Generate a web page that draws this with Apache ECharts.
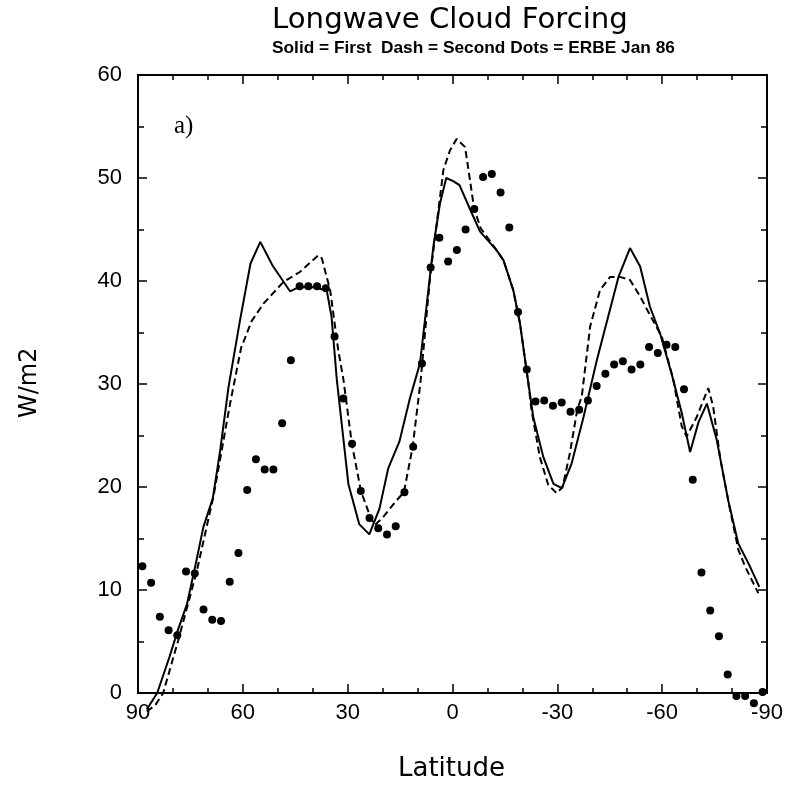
<!DOCTYPE html>
<html><head><meta charset="utf-8">
<script src="https://cdn.jsdelivr.net/npm/echarts@6/dist/echarts.min.js"></script>
<style>html,body{margin:0;padding:0;background:#fff}#c{width:793px;height:787px}</style>
</head><body><div id="c"></div>
<script>
// ---- data ----
const titleText = 'Longwave Cloud Forcing';
const subtitleText = 'Solid = First  Dash = Second Dots = ERBE Jan 86';
const xTickLabels = [90, 60, 30, 0, -30, -60, -90];
const yTickLabels = [0, 10, 20, 30, 40, 50, 60];

// ERBE observations (dots), latitude and W/m2
const dotLat = [88.75, 86.25, 83.75, 81.25, 78.75, 76.25, 73.75, 71.25, 68.75, 66.25,
  63.75, 61.25, 58.75, 56.25, 53.75, 51.25, 48.75, 46.25, 43.75, 41.25,
  38.75, 36.25, 33.75, 31.25, 28.75, 26.25, 23.75, 21.25, 18.75, 16.25,
  13.75, 11.25, 8.75, 6.25, 3.75, 1.25, -1.25, -3.75, -6.25, -8.75,
  -11.25, -13.75, -16.25, -18.75, -21.25, -23.75, -26.25, -28.75, -31.25, -33.75,
  -36.25, -38.75, -41.25, -43.75, -46.25, -48.75, -51.25, -53.75, -56.25, -58.75,
  -61.25, -63.75, -66.25, -68.75, -71.25, -73.75, -76.25, -78.75, -81.25, -83.75,
  -86.25, -88.75];
const dotVal = [12.3, 10.7, 7.4, 6.1, 5.6, 11.8, 11.6, 8.1, 7.1, 7.0,
  10.8, 13.6, 19.7, 22.7, 21.7, 21.7, 26.2, 32.3, 39.5, 39.5,
  39.5, 39.3, 34.6, 28.6, 24.2, 19.6, 17.0, 16.0, 15.4, 16.2,
  19.5, 23.9, 32.0, 41.3, 44.2, 41.9, 43.0, 45.0, 47.0, 50.1,
  50.4, 48.6, 45.2, 37.0, 31.4, 28.3, 28.4, 27.9, 28.2, 27.3,
  27.5, 28.4, 29.8, 31.0, 31.9, 32.2, 31.4, 31.9, 33.6, 33.0,
  33.8, 33.6, 29.5, 20.7, 11.7, 8.0, 5.5, 1.8, -0.3, -0.3,
  -1.0, 0.1];

// First run (solid) [latitude, W/m2]
const firstRun = [[87.5,-1.6],[84.5,0],[81,3.5],[78.5,6.2],[76,8.6],[73.5,12.5],[71.3,16.1],
  [68.6,18.9],[66.5,23.5],[64.1,29.7],[60.8,36.2],[57.8,41.7],[55,43.8],[51.5,41.5],
  [46.5,39.0],[44,39.4],[40,39.4],[36,39.1],[34.6,36.5],[33.1,30.4],[31,24.0],[29.8,20.3],
  [26.7,16.4],[23.8,15.4],[20.9,17.9],[18.4,21.8],[15.2,24.4],[12.2,28.6],[9.3,32.0],
  [5.5,43.3],[3.6,47.5],[1.8,50.0],[-0.2,49.7],[-2,49.3],[-5.5,46.6],[-7.9,44.8],
  [-12.6,43.0],[-14.6,42.0],[-17.4,39.1],[-19.3,35.9],[-21.7,30.1],[-23.1,26.8],
  [-26,22.9],[-28.9,20.3],[-31.3,19.9],[-34.1,22.3],[-37.5,26.8],[-41.3,32.3],
  [-47.5,40.4],[-50.8,43.2],[-53.7,41.4],[-56.5,37.5],[-59.4,34.9],[-62.7,31.0],
  [-65.6,27.2],[-68,23.4],[-70.4,26.3],[-72.8,28.1],[-75.6,24.6],[-78.9,18.7],
  [-81.8,14.5],[-85.1,12.3],[-87.8,10.3]];

// Second run (dashed) [latitude, W/m2]
const secondRun = [[87.5,-1.8],[85.1,-1.2],[82.8,0],[78.5,5.1],[73.2,11.8],[68.4,19.1],
  [63.7,28.0],[60.5,33.5],[57.5,36.1],[54.1,37.8],[48.4,39.9],[43.6,40.9],[38.4,42.5],
  [37.4,42.2],[35,39.1],[32.7,33.3],[31.2,30.4],[28.8,24.2],[26.2,19.6],[23.4,17.0],
  [22.2,16.3],[19.8,17.1],[16.5,18.5],[13.9,19.5],[11.4,23.9],[9.1,30.4],[6.4,40.4],
  [2.6,50.8],[0.7,52.7],[-1.2,53.8],[-3.6,53.0],[-5,49.8],[-6.2,47.0],[-8.1,45.1],
  [-12.6,43.0],[-14.6,42.0],[-17.4,39.1],[-19.3,35.9],[-21.7,30.1],[-22.6,27.5],
  [-25,22.9],[-27.4,20.2],[-29.8,19.4],[-31.5,20.0],[-33.6,23.3],[-35.7,27.5],
  [-37,28.8],[-39.4,35.6],[-42.2,39.1],[-45.1,40.4],[-47.9,40.4],[-50.8,40.1],
  [-53.7,38.5],[-56.5,36.7],[-59.9,34.6],[-63.2,30.4],[-65.6,25.9],[-67,24.9],
  [-69.9,26.8],[-73.2,29.6],[-74.6,27.8],[-76.6,22.8],[-78.9,18.7],[-81.8,13.9],
  [-83.7,12.3],[-87.5,9.7]];

// ---- helpers ----
function fitSize(text, family, weight, target) {
  const c = document.createElement('canvas').getContext('2d');
  c.font = weight + ' 100px ' + family;
  return 100 * target / c.measureText(text).width;
}
const titleSize = fitSize(titleText, '"DejaVu Sans"', 'normal', 356);
const subSize = fitSize(subtitleText, '"Liberation Sans"', 'bold', 403);

const chart = echarts.init(document.getElementById('c'), null, {renderer: 'canvas'});
const axisCommon = {
  type: 'value',
  axisLine: {show: true, onZero: false, lineStyle: {color: '#000', width: 2}},
  splitLine: {show: false},
  minorSplitLine: {show: false}
};
const xBase = Object.assign({}, axisCommon, {
  min: -90, max: 90, interval: 30, inverse: true,
  axisTick: {show: true, inside: true, length: 9, lineStyle: {color: '#000', width: 1.5}},
  minorTick: {show: true, splitNumber: 3, length: 5, lineStyle: {color: '#000', width: 1.5}}
});
const yBase = Object.assign({}, axisCommon, {
  min: 0, max: 60, interval: 10,
  axisTick: {show: true, inside: true, length: 9, lineStyle: {color: '#000', width: 1.5}},
  minorTick: {show: true, splitNumber: 2, length: 6, lineStyle: {color: '#000', width: 1.5}}
});

const option = {
  backgroundColor: '#fff',
  animation: false,
  grid: {left: 138, right: 26, top: 75, bottom: 94, containLabel: false},
  xAxis: [
    Object.assign({}, xBase, {
      position: 'bottom',
      axisLabel: {show: true, margin: 9, color: '#000', fontSize: 22,
        fontFamily: '"Liberation Sans", Arial, sans-serif',
        formatter: v => xTickLabels.indexOf(v) >= 0 ? String(v) : ''}
    }),
    Object.assign({}, xBase, {position: 'top', axisLabel: {show: false}})
  ],
  yAxis: [
    Object.assign({}, yBase, {
      position: 'left',
      axisLabel: {show: true, margin: 16, color: '#000', fontSize: 22,
        fontFamily: '"Liberation Sans", Arial, sans-serif',
        formatter: v => yTickLabels.indexOf(v) >= 0 ? String(v) : ''}
    }),
    Object.assign({}, yBase, {position: 'right', axisLabel: {show: false}})
  ],
  graphic: [
    {type: 'text', left: 272, top: 6, style: {text: titleText, fill: '#000',
      font: 'normal ' + titleSize.toFixed(2) + 'px "DejaVu Sans", sans-serif'}},
    {type: 'text', left: 272, top: 40, style: {text: subtitleText, fill: '#000',
      font: 'bold ' + subSize.toFixed(2) + 'px "Liberation Sans", sans-serif'}},
    {type: 'text', left: 174, top: 114, style: {text: 'a)', fill: '#000',
      font: 'normal 25px "Liberation Serif", serif'}},
    {type: 'text', left: 398, top: 756, style: {text: 'Latitude', fill: '#000',
      font: 'normal 26px "DejaVu Sans", sans-serif'}},
    {type: 'text', x: 18, y: 418, rotation: Math.PI / 2, style: {text: 'W/m2', fill: '#000',
      font: 'normal 24px "DejaVu Sans", sans-serif', textVerticalAlign: 'top'}}
  ],
  series: [
    {name: 'First', type: 'line', xAxisIndex: 0, yAxisIndex: 0, data: firstRun,
      showSymbol: false, symbol: 'none', clip: false, smooth: false,
      lineStyle: {color: '#000', width: 2}},
    {name: 'Second', type: 'line', xAxisIndex: 0, yAxisIndex: 0, data: secondRun,
      showSymbol: false, symbol: 'none', clip: false, smooth: false,
      lineStyle: {color: '#000', width: 2, type: [7, 4]}},
    {name: 'ERBE Jan 86', type: 'scatter', xAxisIndex: 0, yAxisIndex: 0,
      data: dotLat.map((lat, i) => [lat, dotVal[i]]),
      symbol: 'circle', symbolSize: 8, clip: false,
      itemStyle: {color: '#000', opacity: 1}}
  ]
};
chart.setOption(option);
</script>
</body></html>
